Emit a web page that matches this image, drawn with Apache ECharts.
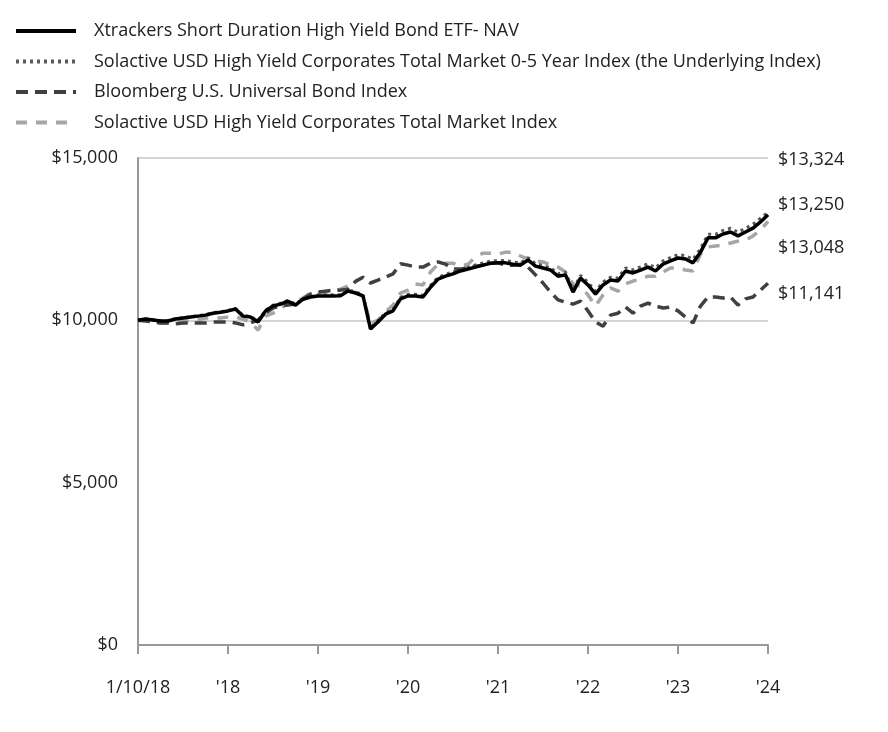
<!DOCTYPE html>
<html>
<head>
<meta charset="utf-8">
<script src="https://cdn.jsdelivr.net/npm/echarts@6/dist/echarts.min.js"></script>
<style>
html,body{margin:0;padding:0;background:#fff;}
#chart{width:888px;height:732px;}
</style>
</head>
<body>
<div id="chart"></div>
<script>
const tickLabels = ["1/10/18", "'18", "'19", "'20", "'21", "'22", "'23", "'24"];
const seriesNames = [
  "Xtrackers Short Duration High Yield Bond ETF- NAV",
  "Solactive USD High Yield Corporates Total Market 0-5 Year Index (the Underlying Index)",
  "Bloomberg U.S. Universal Bond Index",
  "Solactive USD High Yield Corporates Total Market Index"
];
const endLabels = ["$13,324", "$13,250", "$13,048", "$11,141"];

const navValues = [
  10000,10040,10010,9980,9980,10040,10070,10100,10130,10160,10220,10250,10290,
  10350,10130,10100,9950,10290,10440,10500,10590,10470,10650,10720,10750,
  10750,10750,10760,10900,10840,10750,9730,9950,10190,10290,10660,10750,
  10750,10720,11020,11270,11360,11430,11520,11580,11640,11700,11760,11770,
  11770,11730,11700,11860,11670,11610,11550,11360,11400,10870,11300,11090,
  10810,11090,11240,11210,11520,11460,11550,11640,11520,11730,11830,11920,
  11890,11770,12100,12540,12540,12660,12720,12600,12720,12840,13030,13250
];
const underlyingValues = [
  10000,10045,10015,9985,9990,10050,10080,10110,10145,10175,10235,10265,10305,
  10370,10150,10120,9970,10310,10465,10525,10615,10500,10680,10750,10780,
  10785,10785,10795,10940,10880,10790,9770,9990,10230,10335,10705,10800,
  10800,10775,11075,11325,11415,11490,11580,11640,11705,11765,11825,11840,
  11840,11800,11770,11930,11745,11685,11625,11435,11480,10950,11385,11175,
  10895,11180,11330,11305,11615,11555,11650,11740,11620,11830,11935,12025,
  11995,11880,12210,12650,12650,12770,12835,12715,12835,12960,13150,13324
];
const bloombergValues = [
  10000,9980,9950,9920,9920,9890,9920,9920,9920,9920,9950,9950,9950,
  9920,9860,9920,10010,10220,10380,10440,10470,10500,10650,10810,10870,
  10900,10930,10930,10960,11200,11330,11150,11240,11330,11430,11740,11700,
  11640,11640,11760,11800,11730,11580,11580,11610,11670,11700,11760,11770,
  11700,11700,11730,11640,11400,11150,10870,10630,10560,10500,10590,10290,
  9950,9820,10160,10220,10410,10220,10440,10530,10440,10380,10410,10290,
  10100,9920,10440,10720,10720,10690,10720,10470,10660,10720,10930,11141
];
const totalMarketValues = [
  10000,10000,9950,9920,9920,9950,9980,9980,10010,10070,10070,10070,10100,
  10100,10040,9950,9700,10130,10220,10350,10560,10560,10690,10840,10840,
  10870,10900,10960,11060,10870,10750,9890,10010,10260,10470,10840,10930,
  11120,11090,11490,11730,11760,11760,11670,11730,11950,12070,12070,12040,
  12100,12100,11980,11890,11830,11800,11700,11640,11490,11120,11060,10780,
  10440,10780,11000,10900,11120,11210,11270,11360,11360,11490,11610,11610,
  11550,11520,12040,12260,12290,12320,12380,12440,12470,12600,12780,13048
];

const FONT = '"Open Sans", "Noto Sans", sans-serif';
const categories = navValues.map((v, i) => String(i));
const chart = echarts.init(document.getElementById('chart'), null, {renderer: 'canvas'});

const option = {
  animation: false,
  backgroundColor: '#fff',
  textStyle: {fontFamily: FONT},
  legend: {
    orient: 'vertical',
    left: 14,
    top: 22,
    padding: 0,
    itemWidth: 60,
    itemHeight: 14,
    itemGap: 12.5,
    itemStyle: {opacity: 0},
    lineStyle: {width: 4},
    textStyle: {fontFamily: FONT, fontSize: 18, color: '#222', padding: [0, 0, 0, 13]},
    data: seriesNames
  },
  grid: {left: 138, right: 120, top: 158, bottom: 87, containLabel: false},
  xAxis: {
    type: 'category',
    data: categories,
    boundaryGap: false,
    axisLine: {lineStyle: {color: '#999', width: 2}},
    axisTick: {show: true, interval: 11, length: 9, lineStyle: {color: '#999', width: 2}},
    axisLabel: {
      interval: 11,
      margin: 34,
      fontFamily: FONT, fontSize: 18, color: '#222',
      formatter: (v, i) => (i % 12 === 0 ? tickLabels[i / 12] : '')
    },
    splitLine: {show: false}
  },
  yAxis: {
    type: 'value',
    min: 0, max: 15000, interval: 5000,
    axisLine: {show: true, lineStyle: {color: '#999', width: 2}},
    axisTick: {show: false},
    axisLabel: {
      margin: 20, fontFamily: FONT, fontSize: 18, color: '#222',
      formatter: v => '$' + v.toLocaleString('en-US')
    },
    splitLine: {show: true, lineStyle: {color: ['transparent', 'transparent', '#d4d4d4', '#d4d4d4'], width: 2}}
  },
  series: [
    {name: seriesNames[0], type: 'line', data: navValues, symbol: 'none', z: 5,
     lineStyle: {color: '#000', width: 3.5, type: 'solid'}, itemStyle: {color: '#000'}},
    {name: seriesNames[1], type: 'line', data: underlyingValues, symbol: 'none', z: 4,
     lineStyle: {color: '#595959', width: 3, type: [3, 4]}, itemStyle: {color: '#595959'}},
    {name: seriesNames[2], type: 'line', data: bloombergValues, symbol: 'none', z: 3,
     lineStyle: {color: '#404040', width: 3.5, type: [12, 7]}, itemStyle: {color: '#404040'}},
    {name: seriesNames[3], type: 'line', data: totalMarketValues, symbol: 'none', z: 2,
     lineStyle: {color: '#a6a6a6', width: 3.5, type: [11, 9]}, itemStyle: {color: '#a6a6a6'}}
  ],
  graphic: endLabels.map((t, k) => ({
    type: 'text',
    x: 778,
    y: [160, 205, 248, 294][k],
    style: {text: t, font: '18px ' + FONT, fill: '#222', verticalAlign: 'middle', align: 'left'}
  }))
};
chart.setOption(option);
</script>
</body>
</html>
